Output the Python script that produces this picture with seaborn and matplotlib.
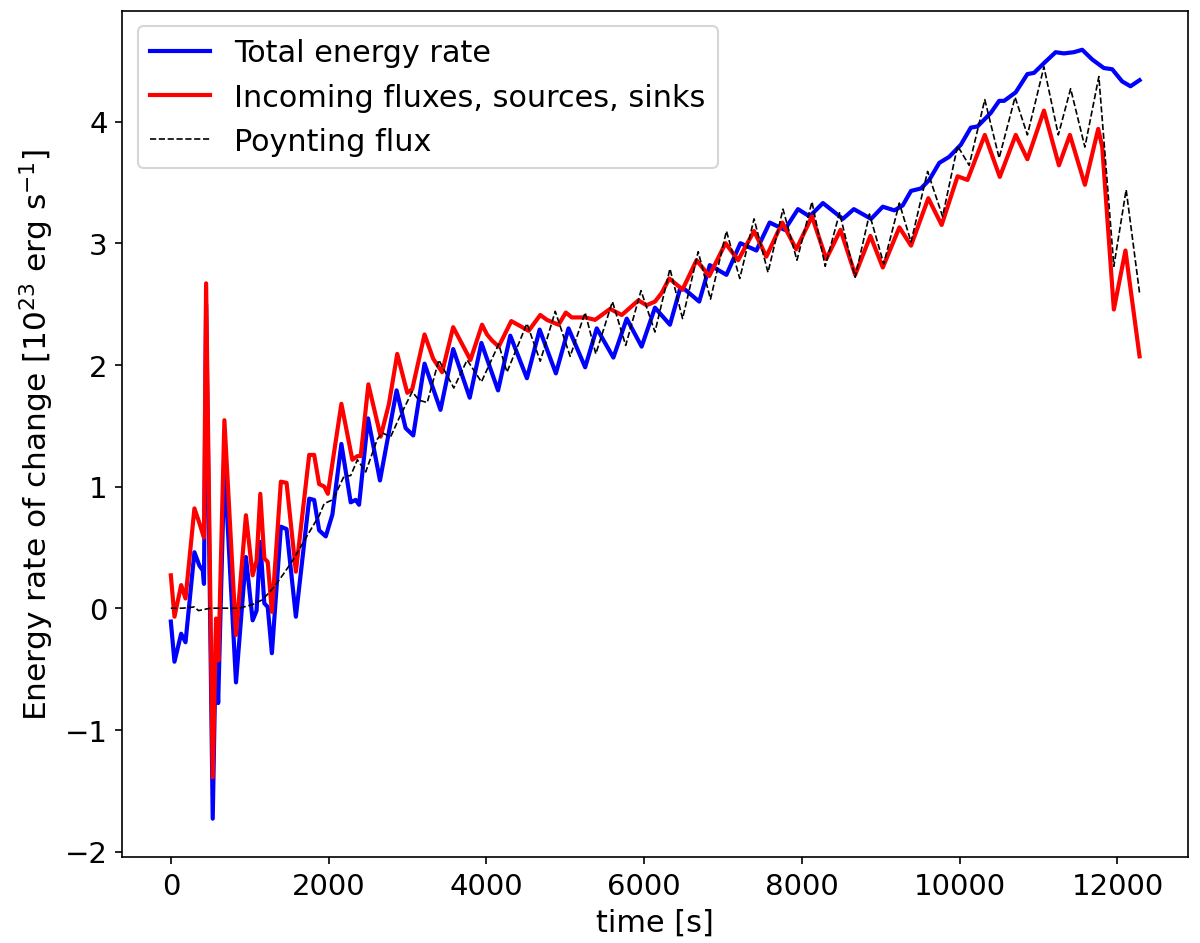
import numpy as np
import matplotlib
matplotlib.use("Agg")
import matplotlib.pyplot as plt
import seaborn as sns

# values (time in s, rate in 1e23 erg/s)
t_total = [0, 46, 131, 186, 299, 362, 405, 420, 447, 531, 573, 600, 679, 826, 952,
           1037, 1087, 1134, 1185, 1228, 1281, 1395, 1467, 1585, 1754, 1817, 1880, 1964,
           2048, 2162, 2280, 2343, 2386, 2500, 2651, 2862, 2976, 3073, 3216, 3418, 3579,
           3789, 3937, 4148, 4303, 4514, 4675, 4881, 5041, 5252, 5399, 5610, 5779, 5968,
           6137, 6327, 6453, 6516, 6698, 6832, 7043, 7220, 7423, 7591, 7781, 7950, 8097,
           8266, 8519, 8658, 8877, 9025, 9172, 9277, 9383, 9509, 9614, 9741, 9867, 10015,
           10141, 10226, 10393, 10500, 10563, 10710, 10858, 10942, 11068, 11216, 11321,
           11447, 11553, 11680, 11827, 11933, 12059, 12165, 12280]
e_total = [-0.11, -0.44, -0.21, -0.28, 0.46, 0.35, 0.31, 0.20, 2.5, -1.73, -0.2, -0.78, 1.19, -0.61, 0.42,
           -0.10, -0.02, 0.545, 0.04, 0.01, -0.37, 0.67, 0.65, -0.07, 0.90, 0.89, 0.64, 0.59,
           0.77, 1.35, 0.87, 0.89, 0.85, 1.56, 1.05, 1.79, 1.48, 1.42, 2.01, 1.63, 2.13,
           1.73, 2.18, 1.79, 2.24, 1.89, 2.29, 1.93, 2.30, 1.98, 2.30, 2.06, 2.38, 2.15,
           2.47, 2.33, 2.62, 2.62, 2.52, 2.82, 2.74, 3.00, 2.94, 3.17, 3.11, 3.28, 3.22,
           3.33, 3.20, 3.28, 3.20, 3.30, 3.27, 3.31, 3.43, 3.45, 3.52, 3.66, 3.71, 3.81,
           3.95, 3.96, 4.07, 4.17, 4.17, 4.24, 4.39, 4.40, 4.48, 4.57, 4.56,
           4.57, 4.59, 4.51, 4.44, 4.43, 4.33, 4.29, 4.34]

t_in = [0, 46, 131, 186, 299, 362, 405, 420, 447, 531, 573, 603, 679, 826, 952,
        1037, 1087, 1134, 1185, 1228, 1281, 1395, 1467, 1585, 1754, 1817, 1880, 1944,
        1990, 2162, 2301, 2365, 2407, 2504, 2660, 2765, 2870, 2997, 3060, 3216, 3326,
        3439, 3579, 3798, 3945, 4008, 4072, 4156, 4316, 4536, 4683, 4767, 4915, 5007,
        5083, 5252, 5378, 5568, 5716, 5926, 6031, 6137, 6221, 6318, 6487, 6664, 6825,
        7031, 7191, 7393, 7549, 7751, 7928, 8127, 8308, 8489, 8675, 8868, 9025, 9235,
        9383, 9602, 9771, 9973, 10099, 10318, 10508, 10710, 10858, 11068, 11258, 11397,
        11587, 11756, 11807, 11954, 12101, 12280]
e_in = [0.27, -0.07, 0.19, 0.08, 0.82, 0.70, 0.61, 0.58, 2.67, -1.39, -0.085, -0.43, 1.545, -0.22, 0.764,
        0.27, 0.39, 0.94, 0.41, 0.38, -0.03, 1.04, 1.03, 0.30, 1.26, 1.26, 1.02, 1.00,
        0.94, 1.68, 1.22, 1.25, 1.25, 1.84, 1.41, 1.68, 2.09, 1.77, 1.80, 2.25, 2.05,
        1.94, 2.31, 2.04, 2.33, 2.25, 2.20, 2.15, 2.36, 2.28, 2.41, 2.37, 2.33, 2.43,
        2.39, 2.39, 2.37, 2.46, 2.41, 2.53, 2.49, 2.52, 2.59, 2.71, 2.62, 2.86, 2.73,
        3.00, 2.86, 3.10, 2.89, 3.17, 2.95, 3.22, 2.87, 3.11, 2.74, 3.06, 2.80, 3.13,
        2.98, 3.37, 3.15, 3.55, 3.52, 3.89, 3.545, 3.89, 3.69, 4.09, 3.64, 3.89,
        3.48, 3.94, 3.79, 2.455, 2.94, 2.07]

t_poy = [0, 150, 300, 350, 500, 868, 1037, 1163, 1290, 1416, 1543, 1669, 1796, 1880,
         1944, 2048, 2112, 2196, 2280, 2365, 2470, 2618, 2681, 2787, 2892, 3060, 3144,
         3250, 3397, 3587, 3756, 3937, 4156, 4261, 4514, 4683, 4873, 5062, 5252, 5387,
         5598, 5766, 5960, 6137, 6327, 6487, 6685, 6841, 7043, 7212, 7393, 7570, 7760,
         7937, 8127, 8295, 8477, 8675, 8856, 9037, 9235, 9383, 9593, 9783, 9973, 10120,
         10318, 10500, 10702, 10858, 11068, 11250, 11406, 11587, 11764, 11954, 12110, 12280]
e_poy = [0.0, 0.0, 0.01, -0.02, 0.0, 0.0, 0.03, 0.07, 0.16, 0.27, 0.39, 0.53, 0.67, 0.76,
         0.86, 0.89, 0.97, 1.085, 1.09, 1.22, 1.12, 1.39, 1.44, 1.41, 1.56, 1.78, 1.71,
         1.69, 2.04, 1.81, 2.04, 1.86, 2.17, 1.94, 2.34, 2.03, 2.44, 2.07, 2.43, 2.09,
         2.52, 2.16, 2.61, 2.27, 2.79, 2.38, 2.93, 2.54, 3.10, 2.71, 3.20, 2.76, 3.28,
         2.86, 3.34, 2.81, 3.25, 2.72, 3.24, 2.83, 3.33, 3.01, 3.59, 3.22, 3.80, 3.64,
         4.18, 3.70, 4.20, 3.89, 4.45, 3.89, 4.27, 3.79, 4.37, 2.81, 3.44, 2.59]

plt.rcParams["font.size"] = 14

fig, ax = plt.subplots(figsize=(8, 6.293), dpi=150)
fig.subplots_adjust(left=0.102, right=0.99, top=0.987, bottom=0.091)

sns.lineplot(x=t_total, y=e_total, ax=ax, color="blue", linewidth=2,
             estimator=None, sort=False, label="Total energy rate")
sns.lineplot(x=t_in, y=e_in, ax=ax, color="red", linewidth=2,
             estimator=None, sort=False, label="Incoming fluxes, sources, sinks")
sns.lineplot(x=t_poy, y=e_poy, ax=ax, color="black", linewidth=0.8,
             linestyle="--", estimator=None, sort=False, label="Poynting flux")

ax.tick_params(labelsize=14)
ax.set_xlabel("time [s]", fontsize=14.5)
ax.set_ylabel("Energy rate of change [$10^{23}$ erg s$^{-1}$]", fontsize=15)
ax.legend(loc="upper left", fontsize=14.5)

plt.savefig("out.png")
